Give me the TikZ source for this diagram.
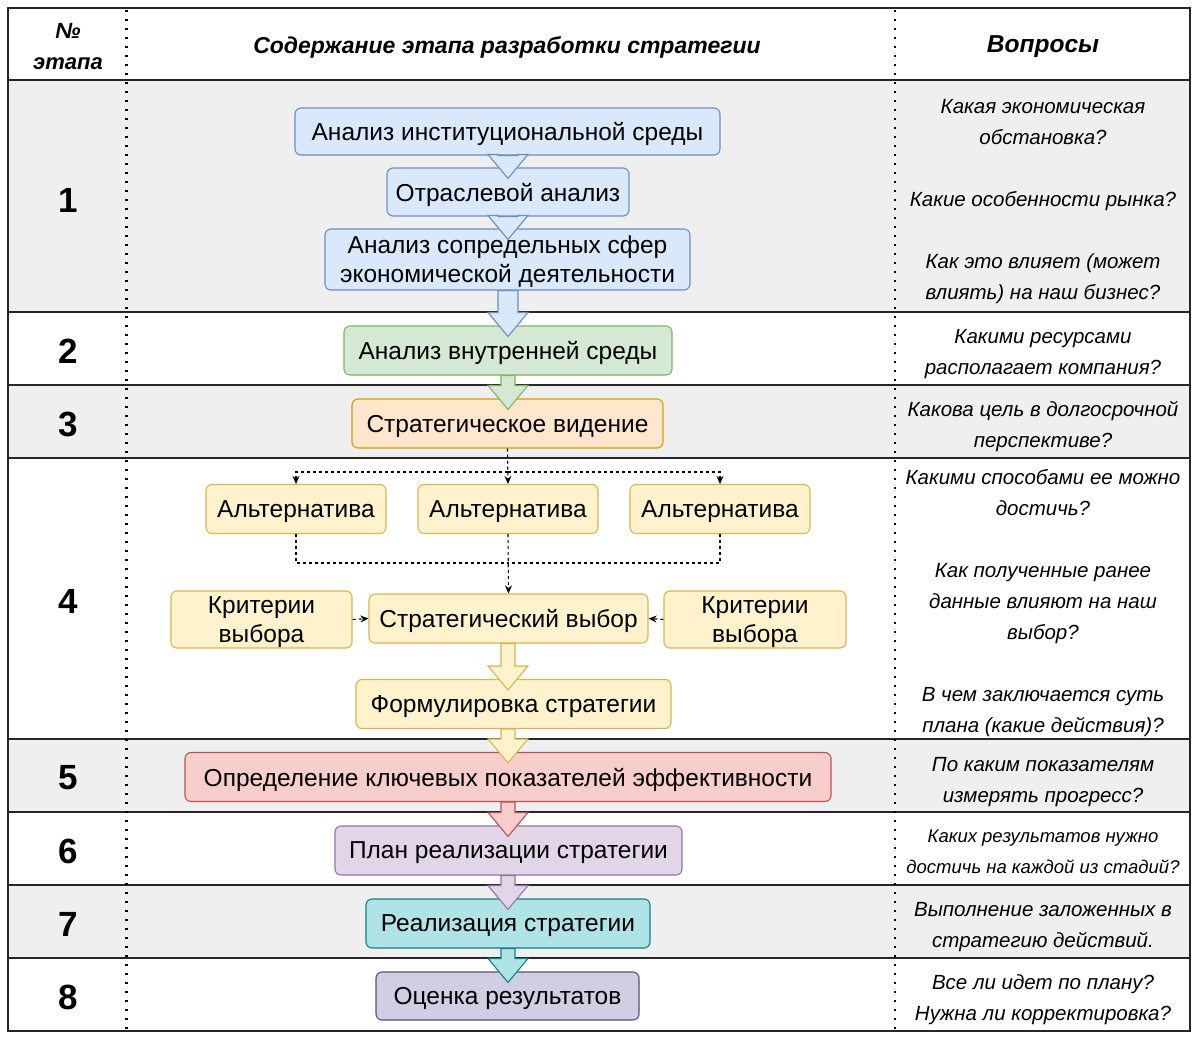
\documentclass[tikz,border=0pt]{standalone}
\usepackage{fontspec}
\setmainfont{Liberation Sans}
\usetikzlibrary{calc,arrows.meta}
\definecolor{rowgray}{HTML}{EFEFEF}
\definecolor{bluef}{HTML}{DAE8FC}\definecolor{blued}{HTML}{6C8EBF}
\definecolor{greenf}{HTML}{D5E8D4}\definecolor{greend}{HTML}{82B366}
\definecolor{orangef}{HTML}{FFE6CC}\definecolor{oranged}{HTML}{D79B00}
\definecolor{yellowf}{HTML}{FFF2CC}\definecolor{yellowd}{HTML}{D6B656}
\definecolor{redf}{HTML}{F8CECC}\definecolor{redd}{HTML}{B85450}
\definecolor{purplef}{HTML}{E1D5E7}\definecolor{purpled}{HTML}{9673A6}
\definecolor{tealf}{HTML}{B0E3E6}\definecolor{teald}{HTML}{0E8088}
\definecolor{lavf}{HTML}{D0CEE2}\definecolor{lavd}{HTML}{56517E}
\newcommand{\barr}[5]{% source, target, fill, draw, shaft half width
\path[fill=#3,draw=#4,line width=1.1pt] let \p1=(#1.south), \p2=(#2.north), \p3=(axis) in
 (\x3-#5,\y1) -- (\x3-#5,\y2+13pt) -- (\x3-20pt,\y2+13pt) -- (\x3,\y2-11pt) -- (\x3+20pt,\y2+13pt) -- (\x3+#5,\y2+13pt) -- (\x3+#5,\y1) -- cycle;}
\begin{document}
\begin{tikzpicture}[x=1pt,y=-1pt,
  box/.style={rounded corners=6pt,line width=1.1pt,align=center,inner sep=0pt,text depth=0pt,
    font=\fontsize{24.5}{29}\selectfont},
  bl/.style={box,fill=bluef,draw=blued},
  gr/.style={box,fill=greenf,draw=greend},
  orr/.style={box,fill=orangef,draw=oranged},
  ye/.style={box,fill=yellowf,draw=yellowd},
  rd/.style={box,fill=redf,draw=redd},
  pu/.style={box,fill=purplef,draw=purpled},
  te/.style={box,fill=tealf,draw=teald},
  la/.style={box,fill=lavf,draw=lavd},
  sep/.style={line width=1.4pt,draw=black!85},
  dotline/.style={line width=2.2pt,dash pattern=on 2.2pt off 6.8pt},
  dline/.style={line width=1.1pt,dash pattern=on 3pt off 3pt},
  dconn/.style={dline,-{Stealth[length=8pt,width=7pt]}},
  q/.style={align=center,inner sep=0pt,text depth=0pt,font=\fontsize{20.5}{31}\selectfont\itshape},
  hd/.style={align=center,inner sep=0pt,font=\fontsize{23}{31}\selectfont\bfseries\itshape},
  num/.style={inner sep=0pt,font=\fontsize{35}{40}\selectfont\bfseries}]
\useasboundingbox (0,0) rectangle (1200,1044);
\fill[white] (0,0) rectangle (1200,1044);
% row shading
\fill[rowgray] (8,80) rectangle (1190,312);
\fill[rowgray] (8,385) rectangle (1190,458);
\fill[rowgray] (8,739) rectangle (1190,812);
\fill[rowgray] (8,885) rectangle (1190,958);
% separators
\foreach \yy in {80,312,385,458,739,812,885,958} \draw[sep] (8,\yy) -- (1190,\yy);
\draw[sep] (8,8) rectangle (1190,1031);
\draw[dotline] (126.5,10) -- (126.5,1032);
\draw[dotline] (895,10) -- (895,1032);
% header
\node[hd,font=\fontsize{22}{31}\selectfont\bfseries\itshape] (h1) at (68,47) {№\\этапа};
\node[hd] (h2) at (507,47) {Содержание этапа разработки стратегии};
\node[hd,font=\fontsize{24.5}{31}\selectfont\bfseries\itshape] (h3) at (1043,47) {Вопросы};
% stage numbers
\node[num] (s1) at (68,200) {1};
\node[num] (s2) at (68,351) {2};
\node[num] (s3) at (68,424) {3};
\node[num] (s4) at (68,601) {4};
\node[num] (s5) at (68,778) {5};
\node[num] (s6) at (68,851) {6};
\node[num] (s7) at (68,924) {7};
\node[num] (s8) at (68,997) {8};
% boxes
\coordinate (axis) at (508,0);
\node[bl,minimum width=425pt,minimum height=47pt] (n1) at (507.5,131.5) {Анализ институциональной среды};
\node[bl,minimum width=242pt,minimum height=48pt] (n2) at (508,192) {Отраслевой анализ};
\node[bl,minimum width=365pt,minimum height=61pt] (n3) at (507.5,259.5) {Анализ сопредельных сфер\\экономической деятельности};
\node[gr,minimum width=328pt,minimum height=49pt] (n4) at (508,350.5) {Анализ внутренней среды};
\node[orr,minimum width=311pt,minimum height=49pt] (n5) at (507.5,423.5) {Стратегическое видение};
\node[ye,minimum width=180pt,minimum height=49pt] (a1) at (296,509) {Альтернатива};
\node[ye,minimum width=180pt,minimum height=49pt] (a2) at (508,509) {Альтернатива};
\node[ye,minimum width=180pt,minimum height=49pt] (a3) at (720,509) {Альтернатива};
\node[ye,minimum width=279pt,minimum height=49pt] (sc) at (508.5,618.5) {Стратегический выбор};
\node[ye,minimum width=181pt,minimum height=57pt] (c1) at (261.5,619.5) {Критерии\\выбора};
\node[ye,minimum width=182pt,minimum height=57pt] (c2) at (755,619.5) {Критерии\\выбора};
\node[ye,minimum width=315pt,minimum height=49pt] (fm) at (513.5,704) {Формулировка стратегии};
\node[rd,minimum width=646pt,minimum height=49pt] (kp) at (508,777) {Определение ключевых показателей эффективности};
\node[pu,minimum width=347pt,minimum height=49pt] (pl) at (508.5,850.5) {План реализации стратегии};
\node[te,minimum width=284pt,minimum height=49pt] (im) at (508,923.5) {Реализация стратегии};
\node[la,minimum width=263pt,minimum height=48pt] (ev) at (507.5,996) {Оценка результатов};
% block arrows
\barr{n1}{n2}{bluef}{blued}{10pt}
\barr{n2}{n3}{bluef}{blued}{10pt}
\barr{n3}{n4}{bluef}{blued}{10pt}
\barr{n4}{n5}{greenf}{greend}{7pt}
\barr{sc}{fm}{yellowf}{yellowd}{7pt}
\barr{fm}{kp}{yellowf}{yellowd}{7pt}
\barr{kp}{pl}{redf}{redd}{7pt}
\barr{pl}{im}{purplef}{purpled}{7pt}
\barr{im}{ev}{tealf}{teald}{7pt}
% dashed connectors
\coordinate (j1) at (508,472);
\coordinate (j2) at (508,563);
\draw[dconn] (n5.south) -- (a2.north);
\draw[dconn] (j1) -| (a1.north);
\draw[dconn] (j1) -| (a3.north);
\draw[dline] (a1.south) |- (j2);
\draw[dline] (a3.south) |- (j2);
\draw[dconn] (a2.south) -- (sc.north);
\draw[dconn] (c1.east) -- (sc.west);
\draw[dconn] (c2.west) -- (sc.east);
% questions
\node[q] (q1) at (1043,199) {Какая экономическая\\обстановка?\\\mbox{}\\Какие особенности рынка?\\\mbox{}\\Как это влияет (может\\влиять) на наш бизнес?};
\node[q] (q2) at (1043,351.5) {Какими ресурсами\\располагает компания?};
\node[q] (q3) at (1043,424.5) {Какова цель в долгосрочной\\перспективе?};
\node[q] (q4) at (1043,601) {Какими способами ее можно\\достичь?\\\mbox{}\\Как полученные ранее\\данные влияют на наш\\выбор?\\\mbox{}\\В чем заключается суть\\плана (какие действия)?};
\node[q] (q5) at (1043,779.5) {По каким показателям\\измерять прогресс?};
\node[q,font=\fontsize{18.5}{31}\selectfont\itshape] (q6) at (1043,852) {Каких результатов нужно\\достичь на каждой из стадий?};
\node[q] (q7) at (1043,925) {Выполнение заложенных в\\стратегию действий.};
\node[q] (q8) at (1043,998) {Все ли идет по плану?\\Нужна ли корректировка?};
\end{tikzpicture}
\end{document}
